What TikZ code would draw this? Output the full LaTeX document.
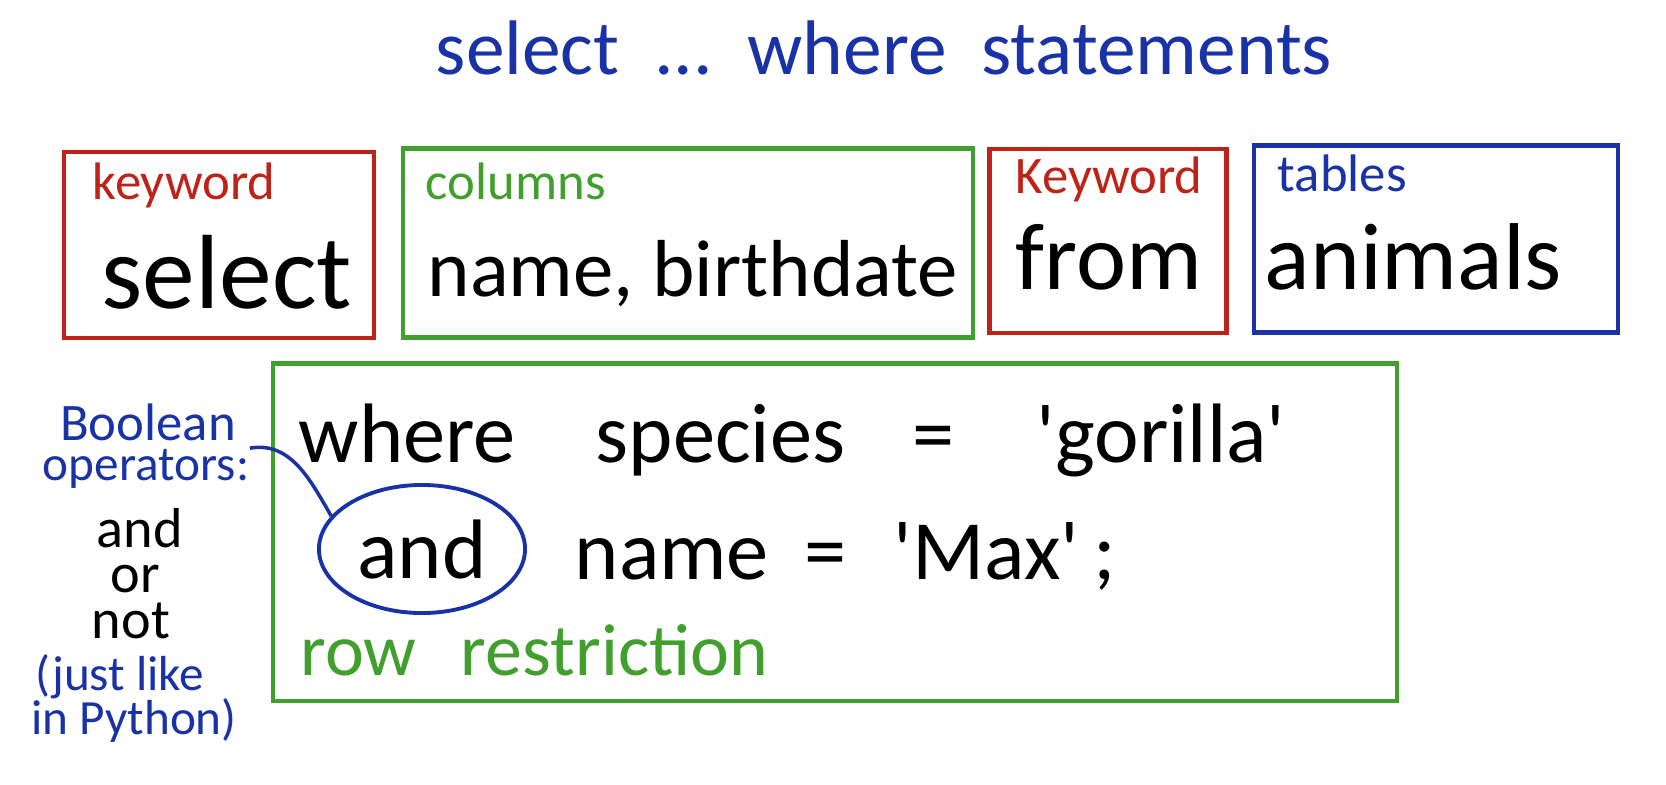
\documentclass[tikz,border=0pt]{standalone}
\usepackage{fontspec}
\setmainfont{Carlito}
\usetikzlibrary{positioning, shapes.geometric}
\definecolor{kwred}{RGB}{190,35,25}
\definecolor{colgreen}{RGB}{65,160,45}
\definecolor{tabblue}{RGB}{25,50,165}

\begin{document}
\begin{tikzpicture}[x=0.01cm, y=-0.01cm,
    box/.style={rectangle, draw, line width=1.2pt, inner sep=0pt},
    word/.style={anchor=base west, inner sep=0pt, font=\fontsize{27}{31}\selectfont},
    note/.style={anchor=base west, inner sep=0pt, font=\fontsize{15}{18}\selectfont},
    side/.style={anchor=base, inner sep=0pt, font=\fontsize{16}{19}\selectfont},
    pen/.style={draw=tabblue, line width=1pt}
]
    \useasboundingbox (0,0) rectangle (1666,784);

    % Title
    \node[anchor=base, font=\fontsize{22}{26}\selectfont, text=tabblue] (title) at (884,74)
        {select\hspace{0.45em}...\hspace{0.45em}where\hspace{0.45em}statements};

    % Row 1 -- select | columns | from | tables
    \node[box, draw=kwred, minimum width=3.10cm, minimum height=1.86cm] (selectbox) at (219,245) {};
    \node[box, draw=colgreen, minimum width=5.69cm, minimum height=1.89cm] (colbox) at (688,243) {};
    \node[box, draw=kwred, minimum width=2.37cm, minimum height=1.84cm] (frombox) at (1108,241) {};
    \node[box, draw=tabblue, minimum width=3.64cm, minimum height=1.87cm] (tabbox) at (1436,239) {};

    \node[note, text=kwred] (kwone) at (92,199) {keyword};
    \node[word, font=\fontsize{30}{34}\selectfont] (selectw) at (101,308) {select};
    \node[note, text=colgreen] (collbl) at (425,199) {columns};
    \node[word, font=\fontsize{23}{27}\selectfont] (colw) at (427,296) {name, birthdate};
    \node[note, text=kwred] (kwtwo) at (1015,193) {Keyword};
    \node[word] (fromw) at (1015,289) {from};
    \node[note, text=tabblue] (tablbl) at (1277,191) {tables};
    \node[word] (tabw) at (1264,289) {animals};

    % Row 2 -- where clause
    \node[box, draw=colgreen, minimum width=11.23cm, minimum height=3.37cm] (wherebox) at (835,532) {};

    \node[word, font=\fontsize{24}{28}\selectfont] (wherew) at (298,462) {where};
    \node[word, font=\fontsize{24}{28}\selectfont] (specw) at (595,462) {species};
    \node[word, anchor=base, font=\fontsize{24}{28}\selectfont] (eqone) at (934,462) {=};
    \node[word, font=\fontsize{24}{28}\selectfont] (gorw) at (1036,462) {\textquotesingle gorilla\textquotesingle};

    \node[ellipse, pen, line width=1.1pt, inner sep=0pt, minimum width=2.06cm, minimum height=1.28cm,
          font=\fontsize{24}{28}\selectfont] (andring) at (422,549) {and};
    \node[word, font=\fontsize{24}{28}\selectfont] (namew) at (574,579) {name};
    \node[word, anchor=base, font=\fontsize{24}{28}\selectfont] (eqtwo) at (826,579) {=};
    \node[word, font=\fontsize{24}{28}\selectfont] (maxw) at (893,579) {\textquotesingle Max\textquotesingle};
    \node[word, anchor=base, font=\fontsize{24}{28}\selectfont] (semi) at (1105,579) {;};

    \node[word, font=\fontsize{21}{25}\selectfont, text=colgreen] (rowlbl) at (300,675) {row\hspace{0.6em}restriction};

    % Left column -- Boolean operators
    \node[side, text=tabblue, font=\fontsize{15}{18}\selectfont] (boolw) at (148,440) {Boolean};
    \node[side, text=tabblue, font=\fontsize{14}{17}\selectfont] (opers) at (146,480) {operators:};
    \node[side] (andw) at (140,547) {and};
    \node[side] (orw) at (135,592) {or};
    \node[side] (notw) at (131,638) {not};
    \node[side, text=tabblue, font=\fontsize{14}{17}\selectfont] (likew) at (120,690) {(just like};
    \node[side, text=tabblue, font=\fontsize{14}{17}\selectfont] (pyw) at (134,734) {in Python)};

    \draw[pen] (opers.north east) to[out=10, in=120] (andring.160);

\end{tikzpicture}
\end{document}
